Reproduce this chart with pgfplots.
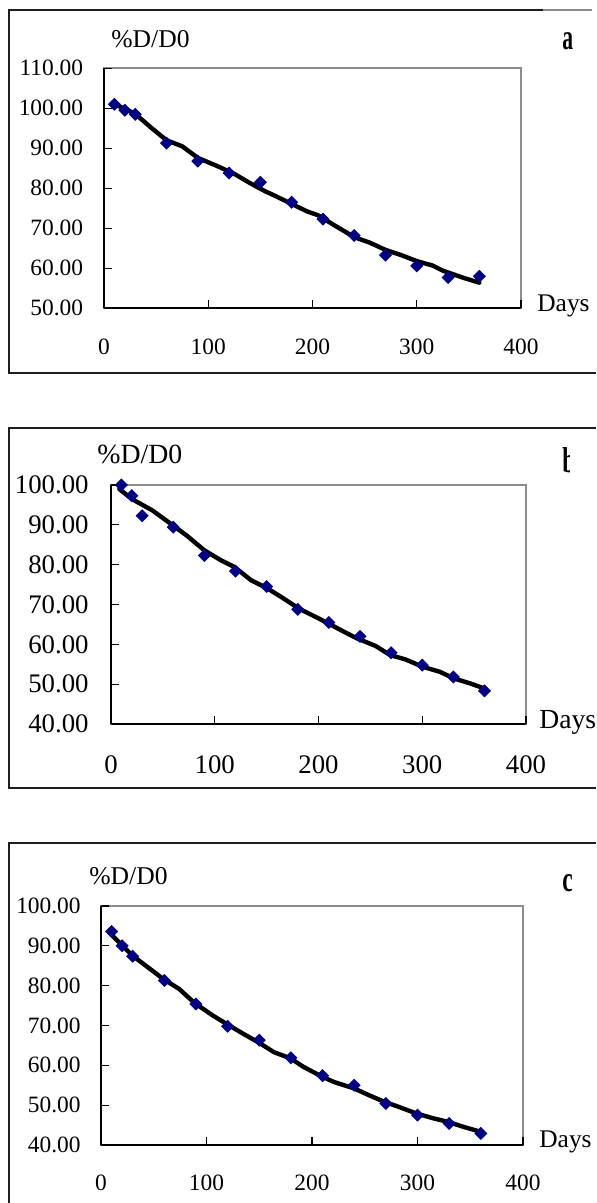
\documentclass[border=0pt]{standalone}
\usepackage{pgfplots}
\pgfplotsset{compat=1.18}
\usepackage{fontspec}
\setmainfont{Liberation Serif}
\usepackage{graphicx}

\definecolor{navy}{HTML}{000080}
\definecolor{framegray}{HTML}{8C8C8C}
\definecolor{boxline}{HTML}{1E1E1E}

% measured retention of D relative to D0 (%), three formulations
\pgfplotstableread{
day  val
10   101.0
20   99.5
30   98.5
60   91.3
90   86.8
120  83.8
150  81.5
180  76.5
210  72.3
240  68.2
270  63.3
300  60.6
330  57.7
360  58.0
}\dataA
\pgfplotstableread{
day  val
10   100.0
20   97.3
30   92.3
60   89.4
90   82.3
120  78.4
150  74.5
180  68.8
210  65.5
240  62.0
270  57.9
300  54.8
330  51.8
360  48.3
}\dataB
\pgfplotstableread{
day  val
10   93.6
20   90.0
30   87.4
60   81.3
90   75.4
120  69.8
150  66.3
180  61.9
210  57.4
240  55.0
270  50.4
300  47.5
330  45.4
360  42.9
}\dataC

% fitted trend lines
\pgfplotstableread{
day  val
10   101.0
20   99.9
30   98.6
45   95.2
60   92.0
75   90.5
90   87.6
100  86.5
110  85.4
125  83.6
140  81.3
155  79.2
165  78.0
180  76.1
195  74.2
205  73.3
220  70.9
240  67.8
255  66.4
270  64.6
285  63.3
300  61.8
315  60.7
325  59.4
345  57.6
360  56.4
}\fitA
\pgfplotstableread{
day  val
8    99.0
20   96.5
40   93.6
60   89.8
73   87.3
90   83.6
106  81.1
119  79.4
135  76.1
151  74.0
164  71.9
181  69.0
197  66.9
210  65.2
222  63.5
237  61.5
255  59.6
269  57.3
284  56.2
300  54.4
317  53.1
331  51.4
346  50.2
360  48.9
}\fitB
\pgfplotstableread{
day  val
8    93.3
30   87.5
60   81.5
74   79.2
81   77.5
88   75.8
106  72.5
119  70.4
135  67.9
149  65.8
164  63.3
180  61.7
192  59.6
210  57.1
221  55.8
240  54.2
254  52.5
269  50.8
282  49.6
299  47.9
315  46.7
329  45.8
343  44.6
360  43.3
}\fitC

\pgfplotsset{
  decay/.style={
    scale only axis, anchor=south west, clip=false,
    xmin=0, xmax=400, xtick={0,100,200,300,400},
    axis lines*=left,
    axis line style={-, black, line width=0.8pt},
    axis background/.style={draw=framegray, line width=1pt},
    tick align=inside, major tick length=4pt,
    tick style={black, line width=0.6pt},
    /pgf/number format/assume math mode=true,
    xticklabel style={anchor=center, inner sep=0pt},
    yticklabel style={anchor=east, inner sep=0pt,
      /pgf/number format/fixed,
      /pgf/number format/fixed zerofill,
      /pgf/number format/precision=2},
  },
  pts/.style={only marks, mark=square*, mark size=2.1pt,
    mark options={rotate=45, fill=navy, draw=navy}},
  fit/.style={black, line width=2.2pt, line join=round, line cap=round},
}

\begin{document}
\begin{tikzpicture}
\useasboundingbox (0,0) rectangle (298pt,601.5pt);

% ---------- panel a ----------
\draw[boxline, line width=1pt] (271.5pt,596.5pt) -- (4.35pt,596.5pt) -- (4.35pt,415pt) -- (298pt,415pt);
\draw[framegray, line width=0.6pt] (271.5pt,596.5pt) -- (296pt,596.5pt);
\begin{axis}[decay, at={(52pt,447.35pt)}, width=208.5pt, height=120pt,
  ymin=50, ymax=110, ytick={50,60,...,110},
  tick label style={font=\fontsize{11.7}{14}\selectfont},
  xticklabel style={yshift=-19.5pt}, yticklabel style={xshift=-10.25pt}]
\addplot[pts] table[x=day, y=val] {\dataA};
\addplot[fit] table[x=day, y=val] {\fitA};
\end{axis}
\node[anchor=base west, inner sep=0pt, font=\fontsize{12.8}{15}\selectfont] at (55.5pt,577.8pt) {\%D/D0};
\node[anchor=base west, inner sep=0pt, font=\fontsize{12.7}{15}\selectfont] at (268.5pt,445.5pt) {Days};

% ---------- panel b ----------
\draw[boxline, line width=1pt] (298pt,387.5pt) -- (4.25pt,387.5pt) -- (4.25pt,207.5pt) -- (298pt,207.5pt);
\begin{axis}[decay, at={(55.5pt,239.5pt)}, width=207.5pt, height=119.5pt,
  ymin=40, ymax=100, ytick={40,50,...,100},
  tick label style={font=\fontsize{13.4}{16}\selectfont},
  xticklabel style={yshift=-20.5pt}, yticklabel style={xshift=-11pt}]
\addplot[pts] table[x=day, y=val] {\dataB};
\addplot[fit] table[x=day, y=val] {\fitB};
\end{axis}
\node[anchor=base west, inner sep=0pt, font=\fontsize{13.9}{16}\selectfont] at (48.5pt,369.5pt) {\%D/D0};
\node[anchor=base west, inner sep=0pt, font=\fontsize{13.8}{16}\selectfont] at (269.5pt,237pt) {Days};

% ---------- panel c ----------
\draw[boxline, line width=1pt] (298pt,180pt) -- (4.25pt,180pt) -- (4.25pt,0pt);
\begin{axis}[decay, at={(50.5pt,29pt)}, width=211pt, height=119.5pt,
  ymin=40, ymax=100, ytick={40,50,...,100},
  tick label style={font=\fontsize{11.7}{14}\selectfont},
  xticklabel style={yshift=-19pt}, yticklabel style={xshift=-10pt}]
\addplot[pts] table[x=day, y=val] {\dataC};
\addplot[fit] table[x=day, y=val] {\fitC};
\end{axis}
\node[anchor=base west, inner sep=0pt, font=\fontsize{12.8}{15}\selectfont] at (44.5pt,159pt) {\%D/D0};
\node[anchor=base west, inner sep=0pt, font=\fontsize{12.7}{15}\selectfont] at (269.5pt,27.5pt) {Days};

% panel letters (text box clipped on the right)
\begin{scope}
\clip (270pt,0pt) rectangle (286.5pt,601.5pt);
\node[anchor=base west, inner sep=0pt, font=\fontsize{18}{20}\selectfont\bfseries] at (281pt,576.5pt) {\scalebox{0.6}[1]{a}};
\node[anchor=base west, inner sep=0pt, font=\fontsize{18}{20}\selectfont\bfseries] at (281pt,155.5pt) {\scalebox{0.65}[1]{c}};
\end{scope}
\begin{scope}
\clip (270pt,0pt) rectangle (284.8pt,601.5pt);
\node[anchor=base west, inner sep=0pt, font=\fontsize{18}{20}\selectfont\bfseries] at (281pt,365pt) {\scalebox{0.65}[1]{b}};
\end{scope}
\end{tikzpicture}
\end{document}
